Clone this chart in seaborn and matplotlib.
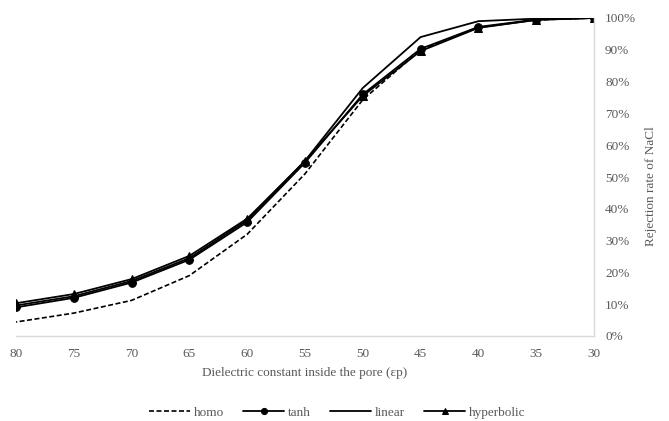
import numpy as np
import pandas as pd
import matplotlib
matplotlib.use("Agg")
import matplotlib.pyplot as plt
import seaborn as sns
from matplotlib.ticker import PercentFormatter

# dielectric constant inside the pore
eps_p = [80, 75, 70, 65, 60, 55, 50, 45, 40, 35, 30]

# rejection rate of NaCl (%)
homo = [4.4, 7.2, 11.2, 19.0, 32.0, 51.0, 74.3, 90.0, 97.0, 99.4, 100.0]
tanh = [9.0, 12.0, 16.8, 24.0, 35.8, 54.5, 76.0, 90.3, 97.2, 99.5, 100.0]
linear = [9.6, 12.5, 17.3, 24.5, 36.4, 55.1, 78.0, 94.0, 99.0, 99.8, 100.0]
hyperbolic = [10.3, 13.2, 17.9, 25.2, 36.9, 55.0, 75.5, 89.6, 96.9, 99.4, 100.0]

sns.set_style("white")
plt.rcParams['font.family'] = ['Liberation Serif', 'DejaVu Serif']

fig = plt.figure(figsize=(6.69, 4.21), dpi=100)
ax = fig.add_axes([16 / 669, 1 - 336 / 421, (594 - 16) / 669, (336 - 18) / 421])

sns.lineplot(x=eps_p, y=homo, ax=ax, color='black', linewidth=1.2,
             linestyle=(0, (3, 1.5)), label='homo')
sns.lineplot(x=eps_p, y=tanh, ax=ax, color='black', linewidth=1.3,
             marker='o', markersize=5.5, markeredgecolor='black', label='tanh')
sns.lineplot(x=eps_p, y=linear, ax=ax, color='black', linewidth=1.3,
             label='linear')
sns.lineplot(x=eps_p, y=hyperbolic, ax=ax, color='black', linewidth=1.3,
             marker='^', markersize=6, markeredgecolor='black', label='hyperbolic')

ax.set_xlim(80, 30)
ax.set_ylim(0, 100)
ax.set_xticks(eps_p)
ax.set_yticks(np.arange(0, 101, 10))
ax.yaxis.set_major_formatter(PercentFormatter(decimals=0))
ax.yaxis.tick_right()
ax.yaxis.set_label_position("right")

ax.tick_params(axis='x', length=0, labelsize=9.5, labelcolor='#595959', pad=8.5)
ax.tick_params(axis='y', length=0, labelsize=9.5, labelcolor='#595959', pad=8)
ax.set_xlabel('Dielectric constant inside the pore (εp)', fontsize=9.5,
              color='#595959', labelpad=5)
ax.set_ylabel('Rejection rate of NaCl', fontsize=9.5, color='#595959',
              labelpad=6)
ax.yaxis.label.set_y(0.472)

for side in ['top', 'left']:
    ax.spines[side].set_visible(False)
for side in ['bottom', 'right']:
    ax.spines[side].set_color('#d9d9d9')
    ax.spines[side].set_linewidth(1)

handles, labels = ax.get_legend_handles_labels()
ax.get_legend().remove()
fig.legend(handles, labels, loc='center', bbox_to_anchor=(0.504, 0.02),
           ncol=4, frameon=False, fontsize=9.5, handlelength=3.1,
           columnspacing=1.45, handletextpad=0.3, labelcolor='#595959',
           borderaxespad=0, borderpad=0, markerscale=0.8)

fig.savefig('out.png', dpi=100)
